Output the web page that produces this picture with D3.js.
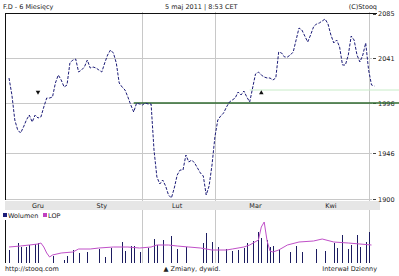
<!DOCTYPE html>
<html>
<head>
<meta charset="utf-8">
<script src="https://cdn.jsdelivr.net/npm/d3@7"></script>
<style>
  body { margin: 0; background: #fff; }
  text { font-family: "DejaVu Sans", sans-serif; font-size: 6.5px; fill: #222; }
</style>
</head>
<body>
<script>
let width = 399,
    height = 276;

// closing price, one value per session (day 0..126)
let close = [2021, 2004, 1979, 1969, 1966, 1972, 1979, 1984, 1977, 1984,
             1981, 1982, 1992, 2001, 2001, 2002, 2016, 2024, 2019, 2012,
             2014, 2036, 2039, 2040, 2027, 2029, 2032, 2039, 2031, 2032,
             2031, 2029, 2027, 2036, 2044, 2049, 2046, 2036, 2016, 2012,
             2009, 2002, 1994, 1987, 1996, 1995, 1994, 1996, 1995, 1995,
             1949, 1922, 1915, 1919, 1913, 1904, 1901, 1911, 1924, 1929,
             1929, 1944, 1937, 1939, 1936, 1931, 1926, 1923, 1904, 1913,
             1934, 1962, 1979, 1983, 1986, 1992, 1997, 1999, 2001, 2007,
             2004, 2008, 2002, 1997, 2011, 2025, 2027, 2024, 2022, 2021,
             2021, 2019, 2021, 2047, 2046, 2042, 2042, 2044, 2047, 2059,
             2071, 2069, 2063, 2057, 2064, 2072, 2075, 2076, 2078, 2080,
             2075, 2064, 2056, 2059, 2052, 2034, 2034, 2044, 2063, 2059,
             2044, 2037, 2044, 2056, 2029, 2014, 2013];

// volume bars (session, volume)
let volDays = [0, 3, 4, 6, 7, 9, 10, 15, 19, 20, 22, 24, 27, 31, 33, 35, 39, 40, 42, 43,
               45, 48, 50, 51, 53, 56, 58, 61, 67, 68, 70, 72, 75, 77, 79, 81, 82, 84, 86, 87,
               89, 90, 91, 93, 97, 99, 101, 106, 109, 112, 113, 115, 117, 118, 120, 121, 123, 124];
let volume = [13, 20, 16, 16, 18, 19, 20, 7, 3, 7, 13, 10, 11, 14, 6, 15, 21, 12, 17, 17,
              11, 15, 24, 18, 23, 27, 14, 16, 20, 30, 21, 16, 14, 12, 13, 15, 20, 22, 31, 25,
              23, 16, 17, 14, 11, 17, 11, 14, 12, 20, 15, 28, 14, 18, 28, 16, 21, 31];

// open interest (LOP)
let lopDays = [0, 4, 7, 10, 11, 12, 13, 14, 15, 18, 22, 24, 28, 31, 36, 41, 45, 49, 51, 55,
               58, 62, 66, 70, 75, 77, 81, 83, 86, 87, 88, 89, 90, 91, 93, 96, 100, 105, 108, 112,
               117, 121, 125];
let lop = [16, 17, 18, 19, 20, 16, 10, 6, 8, 10, 11, 14, 14, 15, 16, 16, 15, 16, 18, 18,
           17, 16, 15, 13, 13, 14, 16, 18, 23, 36, 41, 22, 12, 11, 13, 18, 21, 22, 24, 21,
           20, 19, 18];

let priceTicks = [2085, 2041, 1996, 1946, 1900];
let monthDays = [10, 32, 58, 85, 111];
let monthLabels = ["Gru", "Sty", "Lut", "Mar", "Kwi"];
let gridDays = [46, 71, 124];
let refLevel = 1996, refStart = 43;
let limitLevel = 2009, limitStart = 83;
let markDown = {day: 10, value: 2007};
let markUp = {day: 87, value: 2006};

let svg = d3.select("body")
            .append("svg")
            .attr("width", width)
            .attr("height", height);

let xScale = d3.scaleLinear().domain([0, 126]).range([9, 374.4]);
let yScale = d3.scaleLinear().domain([1900, 2085]).range([199, 14]);
let vScale = d3.scaleLinear().domain([0, 40]).range([263, 223]);

// header
svg.append("text").attr("x", 3).attr("y", 9).text("F.D - 6 Miesięcy");
svg.append("text").attr("x", 165).attr("y", 9).text("5 maj 2011 | 8:53 CET");
svg.append("text").attr("x", 377).attr("y", 9).attr("text-anchor", "end").text("(C)Stooq");

// grid
svg.append("g").selectAll("line")
   .data(priceTicks.slice(1))
   .enter().append("line")
   .attr("x1", 5).attr("x2", 372)
   .attr("y1", d => Math.round(yScale(d)) + 0.5)
   .attr("y2", d => Math.round(yScale(d)) + 0.5)
   .attr("stroke", "#c8c8c8");

svg.append("g").selectAll("line")
   .data(gridDays)
   .enter().append("line")
   .attr("x1", d => Math.round(xScale(d)) + 0.5)
   .attr("x2", d => Math.round(xScale(d)) + 0.5)
   .attr("y1", 12).attr("y2", 263)
   .attr("stroke", "#c8c8c8");

// month band
svg.append("rect").attr("x", 5).attr("y", 201).attr("width", 375).attr("height", 9)
   .attr("fill", "#e6e6e6");
svg.append("g").selectAll("text")
   .data(monthDays)
   .enter().append("text")
   .attr("x", d => xScale(d))
   .attr("y", 208)
   .attr("text-anchor", "middle")
   .text((d, i) => monthLabels[i]);

// right axis
let yAxis = d3.axisRight(yScale).tickValues(priceTicks).tickSize(3).tickFormat(d3.format("d"));
let ax = svg.append("g").attr("transform", "translate(373,0)").call(yAxis);
ax.select(".domain").remove();
ax.selectAll("line").attr("stroke", "#444");
ax.selectAll("text").attr("font-size", 6.5).attr("x", 5).attr("fill", "#222")
  .attr("font-family", "DejaVu Sans");
ax.select(".tick:first-of-type text").attr("dy", "0.2em");

// reference lines
svg.append("line")
   .attr("x1", xScale(limitStart)).attr("x2", width)
   .attr("y1", yScale(limitLevel)).attr("y2", yScale(limitLevel))
   .attr("stroke", "#c8ecc8");
svg.append("line")
   .attr("x1", xScale(refStart)).attr("x2", width)
   .attr("y1", yScale(refLevel)).attr("y2", yScale(refLevel))
   .attr("stroke", "#2f6a2f").attr("stroke-width", 1.5);

// frame
svg.append("line").attr("x1", 5).attr("x2", 377).attr("y1", 13.5).attr("y2", 13.5).attr("stroke", "#111");
svg.append("line").attr("x1", 5.5).attr("x2", 5.5).attr("y1", 13).attr("y2", 200).attr("stroke", "#111");

// price
let line = d3.line()
             .x((d, i) => xScale(i))
             .y(d => yScale(d));
svg.append("path")
   .datum(close)
   .attr("d", line)
   .attr("fill", "none")
   .attr("stroke", "#1c1c78")
   .attr("stroke-width", 1)
   .attr("stroke-dasharray", "3,1.5");

// markers
let tri = d3.symbol().type(d3.symbolTriangle).size(9);
svg.append("path").attr("d", tri())
   .attr("transform", "translate(" + xScale(markDown.day) + "," + yScale(markDown.value) + ") rotate(180)")
   .attr("fill", "#111");
svg.append("path").attr("d", tri())
   .attr("transform", "translate(" + xScale(markUp.day) + "," + yScale(markUp.value) + ")")
   .attr("fill", "#111");

// legend
svg.append("rect").attr("x", 3).attr("y", 213).attr("width", 4).attr("height", 4).attr("fill", "#1c1c78");
svg.append("text").attr("x", 8).attr("y", 217.5).text("Wolumen");
svg.append("rect").attr("x", 43).attr("y", 213).attr("width", 4).attr("height", 4).attr("fill", "#c040c0");
svg.append("text").attr("x", 48).attr("y", 217.5).text("LOP");

// volume panel frame
svg.append("line").attr("x1", 5.5).attr("x2", 5.5).attr("y1", 220).attr("y2", 263).attr("stroke", "#111");

// volume bars
svg.append("g").selectAll("line")
   .data(volume)
   .enter().append("line")
   .attr("x1", (d, i) => Math.round(xScale(volDays[i])) + 0.5)
   .attr("x2", (d, i) => Math.round(xScale(volDays[i])) + 0.5)
   .attr("y1", vScale(0))
   .attr("y2", d => vScale(d))
   .attr("stroke", "#1c1c60")
   .attr("stroke-width", 1);

// open interest line
let lopLine = d3.line()
                .x((d, i) => xScale(lopDays[i]))
                .y(d => vScale(d));
svg.append("path")
   .datum(lop)
   .attr("d", lopLine)
   .attr("fill", "none")
   .attr("stroke", "#c050c8")
   .attr("stroke-width", 1);

// footer
svg.append("text").attr("x", 5).attr("y", 271).text("http://stooq.com");
svg.append("text").attr("x", 192).attr("y", 271).attr("text-anchor", "middle").text("▲ Zmiany, dywid.");
svg.append("text").attr("x", 377).attr("y", 271).attr("text-anchor", "end").text("Interwał Dzienny");
</script>
</body>
</html>
